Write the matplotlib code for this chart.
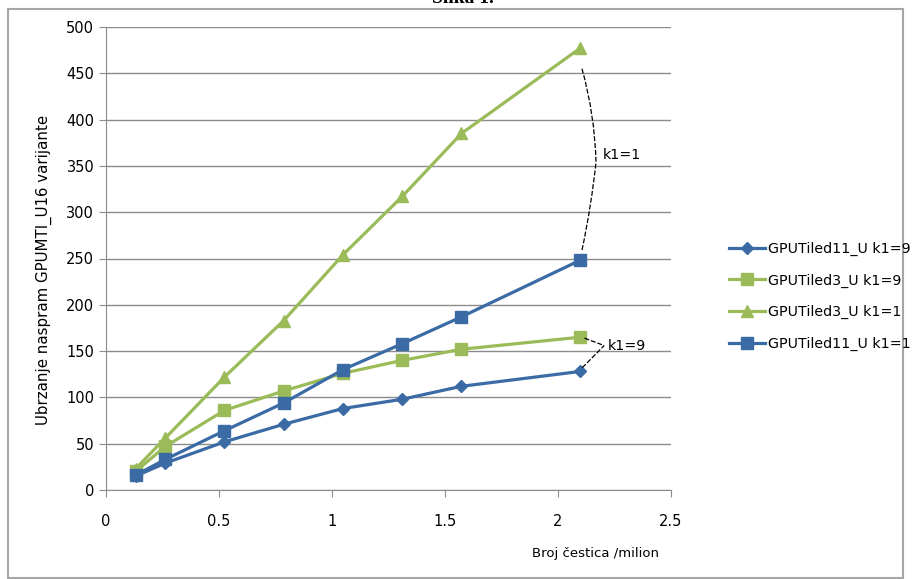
import matplotlib
matplotlib.use("Agg")
import matplotlib.pyplot as plt
from matplotlib.patches import Rectangle, PathPatch
from matplotlib.path import Path

plt.rcParams['font.family'] = ['DejaVu Sans']

# broj cestica (milion)
x = [0.131072, 0.262144, 0.524288, 0.786432, 1.048576, 1.31072, 1.572864, 2.097152]

tiled11_k9 = [15, 29, 52, 71, 88, 98, 112, 128]
tiled3_k9 = [20, 47, 86, 107, 126, 140, 152, 165]
tiled3_k1 = [23, 56, 122, 183, 254, 317, 385, 477]
tiled11_k1 = [16, 33, 64, 94, 130, 158, 187, 248]

labels = ["GPUTiled11_U k1=9", "GPUTiled3_U k1=9", "GPUTiled3_U k1=1", "GPUTiled11_U k1=1"]
xticks = [0, 0.5, 1, 1.5, 2, 2.5]
yticks = list(range(0, 501, 50))

blue = '#3B6BA5'
green = '#9BBB59'
grid = '#8C8C8C'

fig = plt.figure(figsize=(9.16, 5.79), dpi=100)
ax = fig.add_axes([106/916, 1-490/579, 565/916, 463/579])

ax.plot(x, tiled11_k9, color=blue, lw=2.3, marker='D', ms=6, label=labels[0])
ax.plot(x, tiled3_k9, color=green, lw=2.3, marker='s', ms=8.5, label=labels[1])
ax.plot(x, tiled3_k1, color=green, lw=2.3, marker='^', ms=9, label=labels[2])
ax.plot(x, tiled11_k1, color=blue, lw=2.3, marker='s', ms=8.5, label=labels[3])

ax.set_xlim(0, 2.5)
ax.set_ylim(0, 500)
ax.set_xticks(xticks)
ax.set_xticklabels(['0', '0.5', '1', '1.5', '2', '2.5'])
ax.set_yticks(yticks)
ax.yaxis.grid(True, color=grid, lw=1)
ax.set_axisbelow(True)
for s in ['top', 'right']:
    ax.spines[s].set_visible(False)
for s in ['left', 'bottom']:
    ax.spines[s].set_color(grid)
ax.tick_params(colors=grid, labelcolor='black', labelsize=10.5, length=5, direction='out')
ax.tick_params(axis='x', pad=12)

fig.text(44/916, 1-270/579, "Ubrzanje naspram GPUMTI_U16 varijante", fontsize=10.8,
         rotation=90, ha='center', va='center')
fig.text(595/916, 1-553/579, "Broj čestica /milion", fontsize=9.5, ha='center', va='center')

# oznake k1=1 / k1=9 (isprekidane zagrade)
xe = x[-1]
dash = (0, (4, 1.5))
tip = (xe + 0.071, 354)
top = (xe + 0.009, tiled3_k1[-1] - 22)
bot = (xe + 0.009, tiled11_k1[-1] + 11)
brace = Path([top, (xe + 0.066, 405), tip, (xe + 0.05, 306), bot],
             [Path.MOVETO, Path.CURVE3, Path.CURVE3, Path.CURVE3, Path.CURVE3])
ax.add_patch(PathPatch(brace, fill=False, edgecolor='black', lw=0.9, linestyle=dash, clip_on=False))
ax.text(tip[0] + 0.03, 362, "k1=1", fontsize=10.3, va='center')

tip9 = (xe + 0.107, 156)
ax.plot([xe + 0.02, tip9[0]], [tiled3_k9[-1] - 1, tip9[1]], color='black', lw=0.9, ls=dash, clip_on=False)
ax.plot([xe + 0.01, tip9[0]], [tiled11_k9[-1] + 4, tip9[1]], color='black', lw=0.9, ls=dash, clip_on=False)
ax.text(tip9[0] + 0.015, tip9[1], "k1=9", fontsize=10.3, va='center')

fig.legend(loc='upper left', bbox_to_anchor=(716/916, 1-229/579), frameon=False,
           fontsize=10.3, handlelength=2.5, labelspacing=1.22, handletextpad=0.25)

# okvir grafikona i naslov
fig.patches.append(Rectangle((8/916, 1/579), 895/916, 569/579, transform=fig.transFigure,
                             fill=False, edgecolor='#A6A6A6', lw=1.5))
fig.text(463/916, 1-3/579, "Slika 1.", fontsize=14, fontweight='bold', family='Liberation Serif',
         ha='center', va='baseline')

plt.savefig('out.png', dpi=100)
